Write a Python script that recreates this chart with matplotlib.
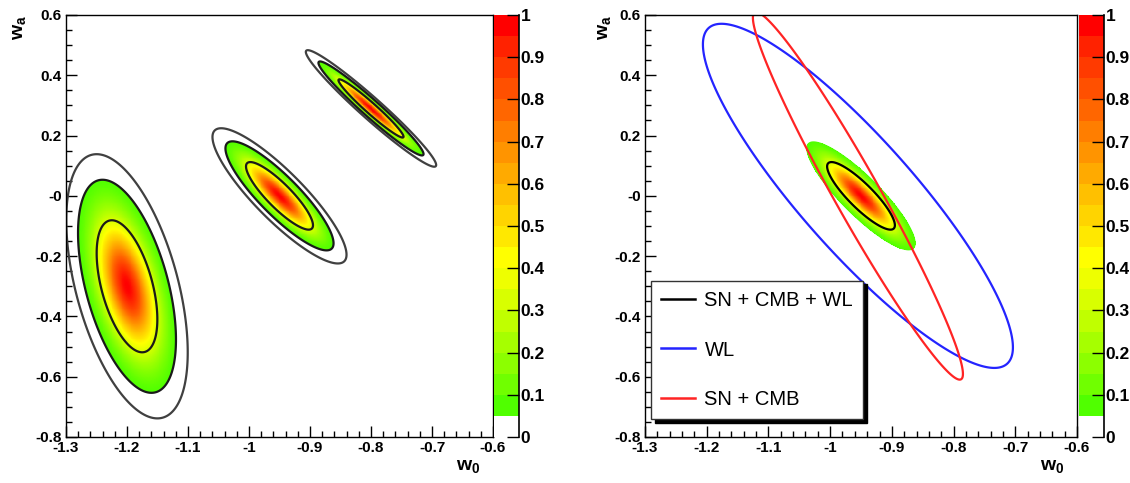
import numpy as np
import matplotlib
matplotlib.use('Agg')
import matplotlib.pyplot as plt
from matplotlib.colors import ListedColormap, LinearSegmentedColormap, BoundaryNorm, Normalize
from matplotlib.cm import ScalarMappable
from matplotlib.lines import Line2D
from matplotlib.ticker import FixedLocator, MultipleLocator

plt.rcParams['font.family'] = ['Liberation Sans', 'DejaVu Sans']
plt.rcParams['mathtext.fontset'] = 'custom'
plt.rcParams['mathtext.bf'] = 'Liberation Sans:bold'
plt.rcParams['mathtext.rm'] = 'Liberation Sans'

# left panel: three forecasts (centre, widths, correlation)
left_w0 = [-1.20, -0.95, -0.80]
left_wa = [-0.30, 0.00, 0.29]
left_sig_w0 = [0.0328, 0.0362, 0.0352]
left_sig_wa = [0.1444, 0.0739, 0.0637]
left_rho = [-0.50, -0.87, -0.97]

# right panel: combined + single probes
probe_names = ['SN + CMB + WL', 'WL', 'SN + CMB']
probe_w0 = [-0.95, -0.955, -0.955]
probe_wa = [0.00, 0.00, 0.00]
probe_sig_w0 = [0.0362, 0.1656, 0.1122]
probe_sig_wa = [0.0739, 0.3764, 0.4020]
probe_rho = [-0.87, -0.88, -0.969]
probe_colors = ['black', '#2424ff', '#ff2424']

# delta chi2 for 68%, 95%, 99% (2 parameters)
dchi2 = [2.30, 5.99, 9.21]

x_ticks = [-1.3, -1.2, -1.1, -1.0, -0.9, -0.8, -0.7, -0.6]
x_ticklabels = ['-1.3', '-1.2', '-1.1', '-1', '-0.9', '-0.8', '-0.7', '-0.6']
y_ticks = [-0.8, -0.6, -0.4, -0.2, 0.0, 0.2, 0.4, 0.6]
y_ticklabels = ['-0.8', '-0.6', '-0.4', '-0.2', '-0', '0.2', '0.4', '0.6']
cb_ticks = [0, 0.1, 0.2, 0.3, 0.4, 0.5, 0.6, 0.7, 0.8, 0.9, 1.0]
cb_ticklabels = ['0', '0.1', '0.2', '0.3', '0.4', '0.5', '0.6', '0.7', '0.8', '0.9', '1']

# ROOT-like palette, 0.05 -> 1 in steps of 0.05
palette = ['#50ff00', '#70ff00', '#8cff00', '#a6ff00', '#c0ff00', '#d8ff00', '#eeff00',
           '#ffff00', '#ffe800', '#ffd400', '#ffc000', '#ffaa00', '#ff9400', '#ff7e00',
           '#ff6600', '#ff5000', '#ff3a00', '#ff2200', '#ff0000']

smooth_cmap = LinearSegmentedColormap.from_list('root_smooth', palette)
cb_cmap = ListedColormap(['white'] + palette)
cb_norm = BoundaryNorm(np.linspace(0, 1, 21), 20)

W0, WA = np.meshgrid(np.linspace(-1.3, -0.6, 900), np.linspace(-0.8, 0.6, 900))


def gauss(mu0, mua, s0, sa, r):
    dx = (W0 - mu0) / s0
    dy = (WA - mua) / sa
    chi2 = (dx**2 - 2 * r * dx * dy + dy**2) / (1 - r**2)
    return np.exp(-chi2 / 2)


lev = [np.exp(-d / 2) for d in dchi2]  # 0.317, 0.050, 0.010


def fill(ax, Z):
    # smooth outer edge first, then the colour gradient on top
    ax.contourf(W0, WA, Z, levels=[lev[1], 2.0], colors=[palette[0]],
                antialiased=True, zorder=0.5)
    Zm = np.ma.masked_less(Z, lev[1])
    ax.imshow(Zm, extent=(-1.3, -0.6, -0.8, 0.6), origin='lower', aspect='auto',
              cmap=smooth_cmap, norm=Normalize(0.05, 1.0), interpolation='nearest',
              zorder=0.8)


def style_axes(ax, ylab_x):
    ax.set_xlim(-1.3, -0.6)
    ax.set_ylim(-0.8, 0.6)
    ax.xaxis.set_major_locator(FixedLocator(x_ticks))
    ax.xaxis.set_minor_locator(MultipleLocator(0.02))
    ax.yaxis.set_major_locator(FixedLocator(y_ticks))
    ax.yaxis.set_minor_locator(MultipleLocator(0.05))
    ax.set_xticklabels(x_ticklabels, fontweight='bold', fontsize=11)
    ax.set_yticklabels(y_ticklabels, fontweight='bold', fontsize=11)
    ax.tick_params(which='both', direction='in', top=False, right=False, width=1)
    ax.tick_params(which='major', length=8)
    ax.tick_params(which='minor', length=4)
    ax.tick_params(axis='x', pad=3)
    ax.tick_params(axis='y', pad=3)
    for s in ax.spines.values():
        s.set_linewidth(1.0)
    ax.text(0.97, -0.05, r'$\mathbf{w_0}$', transform=ax.transAxes,
            ha='right', va='top', fontsize=14)
    ax.text(ylab_x, 1.0, r'$\mathbf{w_a}$', transform=ax.transAxes,
            ha='center', va='top', rotation=90, fontsize=14)


def add_cbar(fig, rect):
    cax = fig.add_axes(rect)
    cb = fig.colorbar(ScalarMappable(norm=cb_norm, cmap=cb_cmap), cax=cax, ticks=cb_ticks)
    cb.outline.set_visible(False)
    cax.set_yticklabels(cb_ticklabels, fontweight='bold', fontsize=12.5)
    cax.tick_params(direction='in', length=9, width=1, pad=1)
    cax.minorticks_off()
    cax.axvline(1.0, color='black', lw=1.2, clip_on=False)
    return cb


fig = plt.figure(figsize=(11.30, 4.83), dpi=100)
ax1 = fig.add_axes([66 / 1130, 46 / 483, 427 / 1130, 422 / 483])
ax2 = fig.add_axes([645 / 1130, 46 / 483, 432 / 1130, 422 / 483])

# ---- left panel ----
Z1 = np.zeros_like(W0)
for i in range(len(left_w0)):
    Z1 += gauss(left_w0[i], left_wa[i], left_sig_w0[i], left_sig_wa[i], left_rho[i])
fill(ax1, Z1)
ax1.contour(W0, WA, Z1, levels=sorted(lev), colors=['#404040', '#1a1a1a', '#1a1a1a'],
            linewidths=1.6)
style_axes(ax1, -0.11)
add_cbar(fig, [494 / 1130, 46 / 483, 25 / 1130, 422 / 483])

# ---- right panel ----
Zc = gauss(probe_w0[0], probe_wa[0], probe_sig_w0[0], probe_sig_wa[0], probe_rho[0])
fill(ax2, Zc)
for i in [1, 2, 0]:
    Zp = gauss(probe_w0[i], probe_wa[i], probe_sig_w0[i], probe_sig_wa[i], probe_rho[i])
    ax2.contour(W0, WA, Zp, levels=[lev[0]], colors=[probe_colors[i]], linewidths=1.6)
style_axes(ax2, -0.093)
add_cbar(fig, [1079 / 1130, 46 / 483, 25 / 1130, 422 / 483])

handles = [Line2D([], [], color=c, lw=1.8) for c in probe_colors]
leg = ax2.legend(handles, probe_names, loc='upper left', bbox_to_anchor=(0.014, 0.370),
                 fontsize=14.5, frameon=True, fancybox=False, framealpha=1,
                 edgecolor='#333333', labelspacing=1.52, handlelength=1.7,
                 handletextpad=0.45, borderpad=0.5, borderaxespad=0,
                 shadow={'color': 'black', 'alpha': 1, 'ox': 2.5, 'oy': -2.5})
leg.get_frame().set_linewidth(1.0)

fig.savefig('out.png', dpi=100)
